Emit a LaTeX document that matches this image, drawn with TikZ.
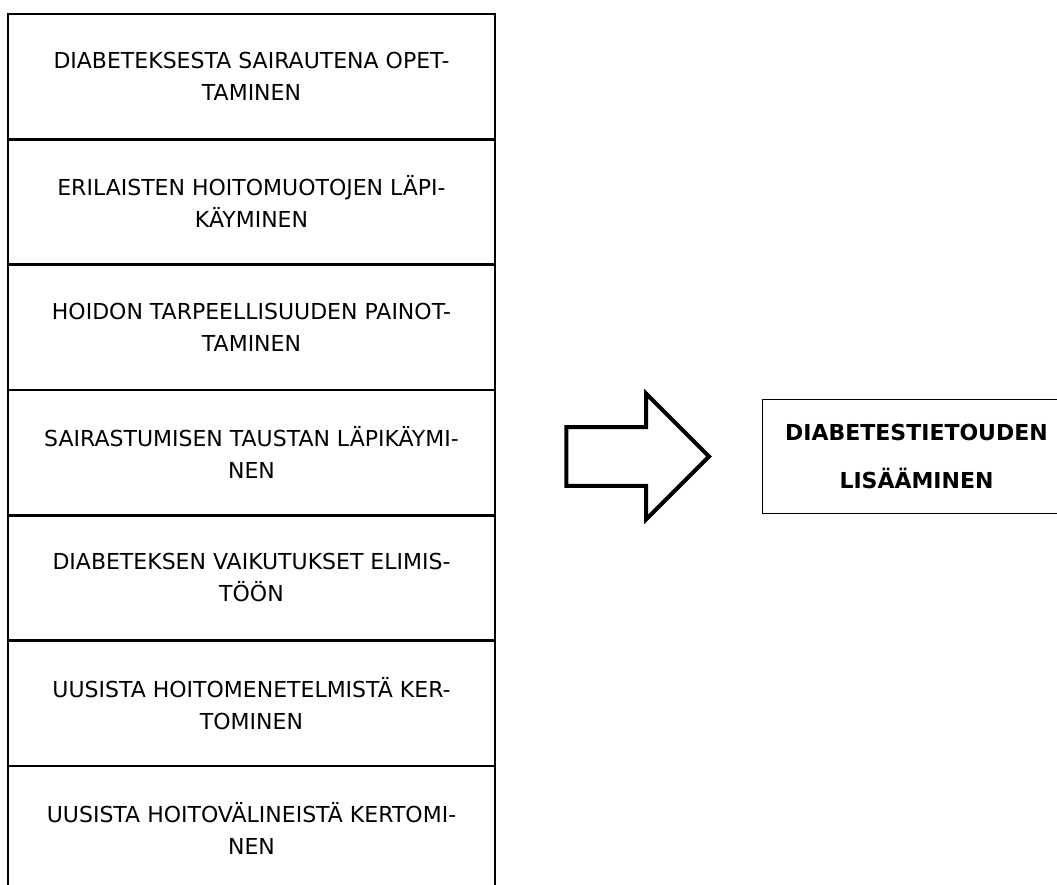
\documentclass[tikz,border=0pt]{standalone}
\usepackage{fontspec}
\setmainfont{DejaVu Sans}
\usetikzlibrary{positioning,shapes.arrows}

\begin{document}
\begin{tikzpicture}[
    x=0.75pt, y=-0.75pt,
    node distance=0pt,
    topic/.style={draw=black, line width=2pt, outer sep=0pt, align=center, minimum width=365.25pt, minimum height=94pt, font=\fontsize{16.5}{24}\selectfont},
    goalbox/.style={draw=black, line width=0.9pt, outer sep=0pt, align=center, minimum width=231pt, minimum height=85.5pt, font=\fontsize{16.5}{36}\selectfont\bfseries},
    bigarrow/.style={single arrow, draw=black, line width=3pt, single arrow head extend=25pt, minimum height=107pt, inner xsep=0pt, inner ysep=20.6pt}
  ]
  \useasboundingbox (0,0) rectangle (1057,885);
  \clip (0,0) rectangle (1057,885);
  \node[topic] (b1) at (251.5,76.5) {DIABETEKSESTA SAIRAUTENA OPET-\\TAMINEN};
  \node[topic, below=of b1] (b2) {ERILAISTEN HOITOMUOTOJEN LÄPI-\\KÄYMINEN};
  \node[topic, below=of b2] (b3) {HOIDON TARPEELLISUUDEN PAINOT-\\TAMINEN};
  \node[topic, below=of b3] (b4) {SAIRASTUMISEN TAUSTAN LÄPIKÄYMI-\\NEN};
  \node[topic, below=of b4] (b5) {DIABETEKSEN VAIKUTUKSET ELIMIS-\\TÖÖN};
  \node[topic, below=of b5] (b6) {UUSISTA HOITOMENETELMISTÄ KER-\\TOMINEN};
  \node[topic, below=of b6] (b7) {UUSISTA HOITOVÄLINEISTÄ KERTOMI-\\NEN};
  \node[bigarrow, right=52pt of b4, yshift=-3pt] (arr) {};
  \node[goalbox, right=38pt of arr] (goal) {DIABETESTIETOUDEN\\LISÄÄMINEN};
\end{tikzpicture}
\end{document}
